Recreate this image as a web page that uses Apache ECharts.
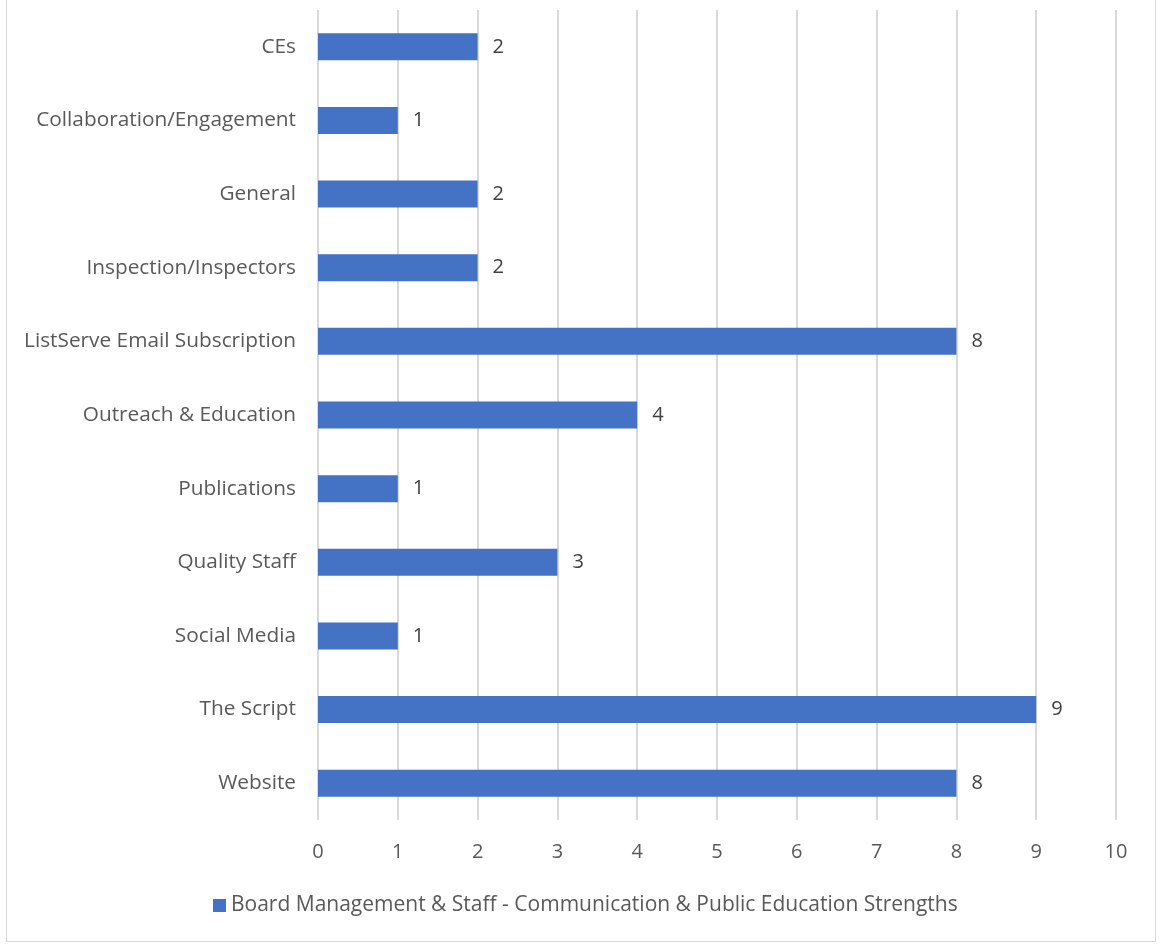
<!DOCTYPE html>
<html>
<head>
<meta charset="utf-8">
<script src="https://cdn.jsdelivr.net/npm/echarts@6/dist/echarts.min.js"></script>
<style>
  html, body { margin: 0; padding: 0; background: #ffffff; }
  #frame { position: absolute; left: 6px; top: -1px; width: 1150px; height: 943px; border: 1.5px solid #d9d9d9; box-sizing: border-box; }
  #chart { position: absolute; left: 0; top: 0; width: 1160px; height: 952px; }
</style>
</head>
<body>
<div id="frame"></div>
<div id="chart"></div>
<script>
// Categories listed top to bottom
const categories = [
  'CEs',
  'Collaboration/Engagement',
  'General',
  'Inspection/Inspectors',
  'ListServe Email Subscription',
  'Outreach & Education',
  'Publications',
  'Quality Staff',
  'Social Media',
  'The Script',
  'Website'
];
const counts = [2, 1, 2, 2, 8, 4, 1, 3, 1, 9, 8];
const seriesName = 'Board Management & Staff - Communication & Public Education Strengths';
const xTicks = [0, 10, 1];

const FONT = '"Open Sans", "Noto Sans", sans-serif';
const chart = echarts.init(document.getElementById('chart'), null, { renderer: 'canvas' });

chart.setOption({
  animation: false,
  textStyle: { fontFamily: FONT },
  grid: { left: 318, right: 44, top: 10, bottom: 132, containLabel: false },
  legend: {
    data: [seriesName],
    bottom: 31,
    left: 208,
    itemWidth: 13,
    itemHeight: 13,
    itemGap: 7,
    icon: 'rect',
    textStyle: { fontFamily: FONT, fontSize: 21, color: '#595959' }
  },
  xAxis: {
    type: 'value',
    min: xTicks[0],
    max: xTicks[1],
    interval: xTicks[2],
    axisLine: { show: false },
    axisTick: { show: false },
    splitLine: { show: true, lineStyle: { color: '#d9d9d9', width: 2 } },
    axisLabel: { fontFamily: FONT, fontSize: 20, color: '#595959', margin: 22 }
  },
  yAxis: {
    type: 'category',
    data: categories,
    inverse: true,
    axisLine: { show: false },
    axisTick: { show: false },
    axisLabel: { fontFamily: FONT, fontSize: 20.8, color: '#595959', margin: 22 }
  },
  series: [{
    name: seriesName,
    type: 'bar',
    data: counts,
    barWidth: 27,
    itemStyle: { color: '#4472c4' },
    label: {
      show: true,
      position: 'right',
      distance: 15,
      fontFamily: FONT,
      fontSize: 20,
      color: '#404040'
    }
  }]
});
</script>
</body>
</html>
